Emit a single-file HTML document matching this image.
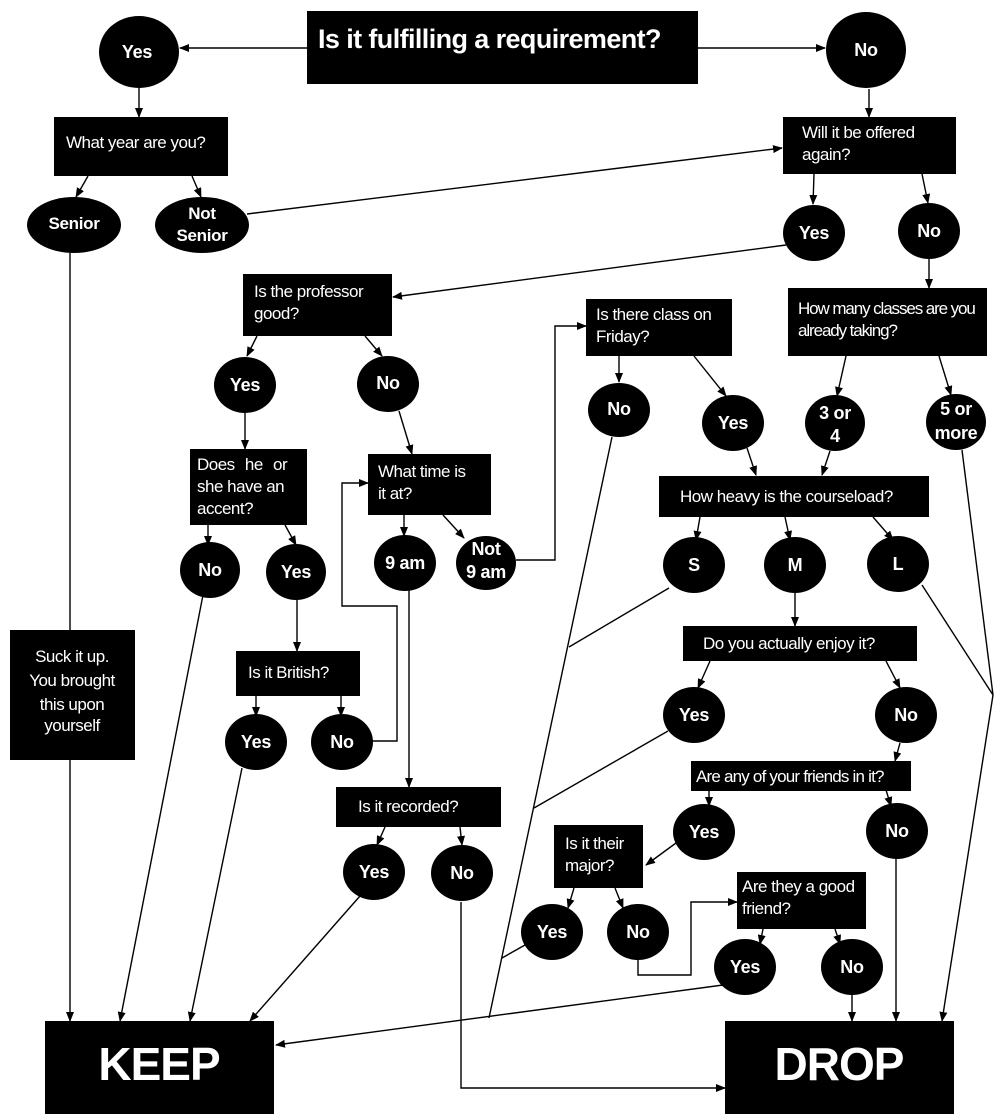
<!DOCTYPE html>
<html><head><meta charset="utf-8"><style>
html,body{margin:0;padding:0;background:#fff;}
svg{display:block;}
text{fill:#fff;font-family:"Liberation Sans",sans-serif;}
.q{font-size:17px;letter-spacing:-0.5px;}
.o{font-size:18px;font-weight:bold;text-anchor:middle;letter-spacing:-0.3px;}
.l{stroke:#000;stroke-width:1.4;fill:none;}
.a{stroke:#000;stroke-width:1.4;fill:none;marker-end:url(#ar);}
</style></head><body>
<svg width="1000" height="1114" viewBox="0 0 1000 1114" xmlns="http://www.w3.org/2000/svg">
<defs><marker id="ar" markerWidth="10" markerHeight="8" refX="9" refY="4" orient="auto" markerUnits="userSpaceOnUse"><path d="M0,0 L10,4 L0,8 z" fill="#000"/></marker></defs>

<path class="a" d="M307,48 L180,48"/>
<path class="a" d="M698,48 L825,48"/>
<path class="a" d="M139,88 L139,117"/>
<path class="a" d="M88,176 L76,197"/>
<path class="a" d="M192,176 L201,197"/>
<path class="a" d="M247,214 L782,148"/>
<path class="a" d="M869,89 L869,117"/>
<path class="a" d="M814,174 L813,204"/>
<path class="a" d="M922,174 L928,203"/>
<path class="a" d="M786,245 L393,297"/>
<path class="a" d="M929,259 L929,288"/>
<path class="a" d="M257,336 L247,356"/>
<path class="a" d="M365,336 L382,356"/>
<path class="a" d="M245,413 L245,449"/>
<path class="a" d="M399,411 L412,454"/>
<path class="a" d="M208,525 L208,545"/>
<path class="a" d="M285,525 L296,545"/>
<path class="a" d="M404,515 L404,536"/>
<path class="a" d="M443,515 L464,538"/>
<path class="a" d="M516,560 L555,560 L555,326 L586,326"/>
<path class="a" d="M297,597 L297,651"/>
<path class="a" d="M256,696 L256,716"/>
<path class="a" d="M341,696 L341,716"/>
<path class="a" d="M372,741 L397,741 L397,606 L342,606 L342,483 L368,483"/>
<path class="a" d="M619,356 L619,382"/>
<path class="a" d="M694,356 L726,396"/>
<path class="a" d="M846,356 L837,396"/>
<path class="a" d="M939,356 L951,395"/>
<path class="a" d="M747,448 L756,475"/>
<path class="a" d="M830,451 L822,475"/>
<path class="a" d="M700,517 L696,540"/>
<path class="a" d="M785,517 L790,540"/>
<path class="a" d="M873,517 L893,540"/>
<path class="a" d="M795,592 L795,626"/>
<path class="a" d="M710,661 L698,688"/>
<path class="a" d="M886,661 L900,688"/>
<path class="a" d="M900,743 L895,761"/>
<path class="a" d="M709,790 L709,806"/>
<path class="a" d="M886,790 L891,806"/>
<path class="a" d="M676,843 L646,865"/>
<path class="a" d="M574,888 L568,908"/>
<path class="a" d="M615,888 L623,908"/>
<path class="a" d="M638,958 L638,975 L691,975 L691,902 L737,902"/>
<path class="a" d="M763,929 L760,944"/>
<path class="a" d="M835,929 L840,944"/>
<path class="a" d="M409,590 L409,787"/>
<path class="a" d="M385,827 L377,845"/>
<path class="a" d="M460,827 L462,845"/>
<path class="a" d="M70,253 L70,1021"/>
<path class="a" d="M203,595 L120,1021"/>
<path class="a" d="M242,768 L190,1021"/>
<path class="a" d="M360,896 L250,1021"/>
<path class="a" d="M723,985 L276,1045"/>
<path class="l" d="M612,437 L489,1018"/>
<path class="l" d="M669,588 L569,647"/>
<path class="l" d="M668,731 L534,808"/>
<path class="l" d="M525,945 L502,958"/>
<path class="a" d="M461,902 L461,1088 L725,1088"/>
<path class="a" d="M852,991 L852,1021"/>
<path class="a" d="M896,858 L896,1021"/>
<path class="l" d="M922,585 L993,695"/>
<path class="l" d="M962,450 L993,695"/>
<path class="a" d="M993,695 L942,1021"/>

<rect x="307" y="11" width="391" height="73" fill="#000"/>
<text x="318" y="48" style="font-size:27px;font-weight:bold;letter-spacing:-0.6px">Is it fulfilling a requirement?</text>
<rect x="54" y="117" width="174" height="59" fill="#000"/>
<text class="q" x="66" y="148">What year are you?</text>
<rect x="783" y="117" width="173" height="57" fill="#000"/>
<text class="q" x="802" y="138">Will it be offered</text><text class="q" x="802" y="160">again?</text>
<rect x="243" y="274" width="149" height="62" fill="#000"/>
<text class="q" x="254" y="297">Is the professor</text><text class="q" x="254" y="319">good?</text>
<rect x="788" y="288" width="199" height="68" fill="#000"/>
<text class="q" x="798" y="314" style="letter-spacing:-1.1px">How many classes are you</text><text class="q" x="798" y="336" style="letter-spacing:-1.1px">already taking?</text>
<rect x="586" y="299" width="146" height="57" fill="#000"/>
<text class="q" x="596" y="320">Is there class on</text><text class="q" x="596" y="342">Friday?</text>
<rect x="190" y="449" width="117" height="76" fill="#000"/>
<text class="q" x="197" y="470" style="word-spacing:6px">Does he or</text><text class="q" x="197" y="492">she have an</text><text class="q" x="197" y="514">accent?</text>
<rect x="368" y="454" width="123" height="61" fill="#000"/>
<text class="q" x="378" y="477">What time is</text><text class="q" x="378" y="499">it at?</text>
<rect x="659" y="476" width="270" height="41" fill="#000"/>
<text class="q" x="680" y="502">How heavy is the courseload?</text>
<rect x="683" y="626" width="234" height="35" fill="#000"/>
<text class="q" x="703" y="649">Do you actually enjoy it?</text>
<rect x="236" y="651" width="124" height="45" fill="#000"/>
<text class="q" x="248" y="678">Is it British?</text>
<rect x="10" y="630" width="125" height="130" fill="#000"/>
<text class="q" x="72" y="662" text-anchor="middle">Suck it up.</text><text class="q" x="72" y="686" text-anchor="middle">You brought</text><text class="q" x="72" y="710" text-anchor="middle">this upon</text><text class="q" x="72" y="731" text-anchor="middle">yourself</text>
<rect x="691" y="761" width="220" height="30" fill="#000"/>
<text class="q" x="696" y="782" style="letter-spacing:-0.8px">Are any of your friends in it?</text>
<rect x="336" y="787" width="165" height="40" fill="#000"/>
<text class="q" x="358" y="812">Is it recorded?</text>
<rect x="554" y="825" width="89" height="63" fill="#000"/>
<text class="q" x="565" y="849">Is it their</text><text class="q" x="565" y="871">major?</text>
<rect x="737" y="872" width="129" height="57" fill="#000"/>
<text class="q" x="742" y="892">Are they a good</text><text class="q" x="742" y="914">friend?</text>
<rect x="45" y="1021" width="229" height="93" fill="#000"/>
<text x="159" y="1080" style="font-size:46px;font-weight:bold;text-anchor:middle;letter-spacing:-1px">KEEP</text>
<rect x="725" y="1021" width="229" height="93" fill="#000"/>
<text x="839" y="1080" style="font-size:46px;font-weight:bold;text-anchor:middle;letter-spacing:-1px">DROP</text>

<g fill="#000">
<ellipse cx="139" cy="52" rx="40" ry="36"/>
<ellipse cx="866" cy="50" rx="40" ry="38"/>
<ellipse cx="74" cy="225" rx="47" ry="28"/>
<ellipse cx="202" cy="225" rx="47" ry="28"/>
<ellipse cx="814" cy="233" rx="31" ry="28"/>
<ellipse cx="929" cy="231" rx="31" ry="28"/>
<ellipse cx="245" cy="385" rx="31" ry="28"/>
<ellipse cx="388" cy="384" rx="31" ry="28"/>
<ellipse cx="619" cy="410" rx="31" ry="27"/>
<ellipse cx="733" cy="423" rx="31" ry="28"/>
<ellipse cx="835" cy="423" rx="30" ry="28"/>
<ellipse cx="956" cy="422" rx="30" ry="28"/>
<ellipse cx="210" cy="570" rx="30" ry="28"/>
<ellipse cx="296" cy="572" rx="30" ry="28"/>
<ellipse cx="405" cy="563" rx="31" ry="28"/>
<ellipse cx="486" cy="563" rx="30" ry="27"/>
<ellipse cx="694" cy="565" rx="31" ry="28"/>
<ellipse cx="795" cy="565" rx="31" ry="28"/>
<ellipse cx="898" cy="564" rx="31" ry="28"/>
<ellipse cx="694" cy="715" rx="31" ry="28"/>
<ellipse cx="906" cy="715" rx="31" ry="28"/>
<ellipse cx="256" cy="742" rx="31" ry="28"/>
<ellipse cx="342" cy="742" rx="31" ry="28"/>
<ellipse cx="704" cy="832" rx="31" ry="28"/>
<ellipse cx="897" cy="831" rx="31" ry="28"/>
<ellipse cx="374" cy="872" rx="31" ry="28"/>
<ellipse cx="462" cy="873" rx="31" ry="28"/>
<ellipse cx="552" cy="932" rx="31" ry="28"/>
<ellipse cx="638" cy="932" rx="31" ry="28"/>
<ellipse cx="745" cy="967" rx="31" ry="28"/>
<ellipse cx="852" cy="967" rx="31" ry="28"/>
</g>
<g>
<text class="o" x="137" y="58">Yes</text>
<text class="o" x="866" y="56">No</text>
<text class="o" x="74" y="229" style="font-size:17px">Senior</text>
<text class="o" x="202" y="219" style="font-size:17px">Not</text><text class="o" x="202" y="241" style="font-size:17px">Senior</text>
<text class="o" x="814" y="239">Yes</text>
<text class="o" x="929" y="237">No</text>
<text class="o" x="245" y="391">Yes</text>
<text class="o" x="388" y="389">No</text>
<text class="o" x="619" y="415">No</text>
<text class="o" x="733" y="429">Yes</text>
<text class="o" x="835" y="419">3 or</text><text class="o" x="835" y="442">4</text>
<text class="o" x="956" y="415">5 or</text><text class="o" x="956" y="439">more</text>
<text class="o" x="210" y="576">No</text>
<text class="o" x="296" y="578">Yes</text>
<text class="o" x="405" y="569">9 am</text>
<text class="o" x="486" y="555">Not</text><text class="o" x="486" y="578">9 am</text>
<text class="o" x="694" y="571">S</text>
<text class="o" x="795" y="571">M</text>
<text class="o" x="898" y="570">L</text>
<text class="o" x="694" y="721">Yes</text>
<text class="o" x="906" y="721">No</text>
<text class="o" x="256" y="748">Yes</text>
<text class="o" x="342" y="748">No</text>
<text class="o" x="704" y="838">Yes</text>
<text class="o" x="897" y="837">No</text>
<text class="o" x="374" y="878">Yes</text>
<text class="o" x="462" y="879">No</text>
<text class="o" x="552" y="938">Yes</text>
<text class="o" x="638" y="938">No</text>
<text class="o" x="745" y="973">Yes</text>
<text class="o" x="852" y="973">No</text>
</g>
</svg>
</body></html>
